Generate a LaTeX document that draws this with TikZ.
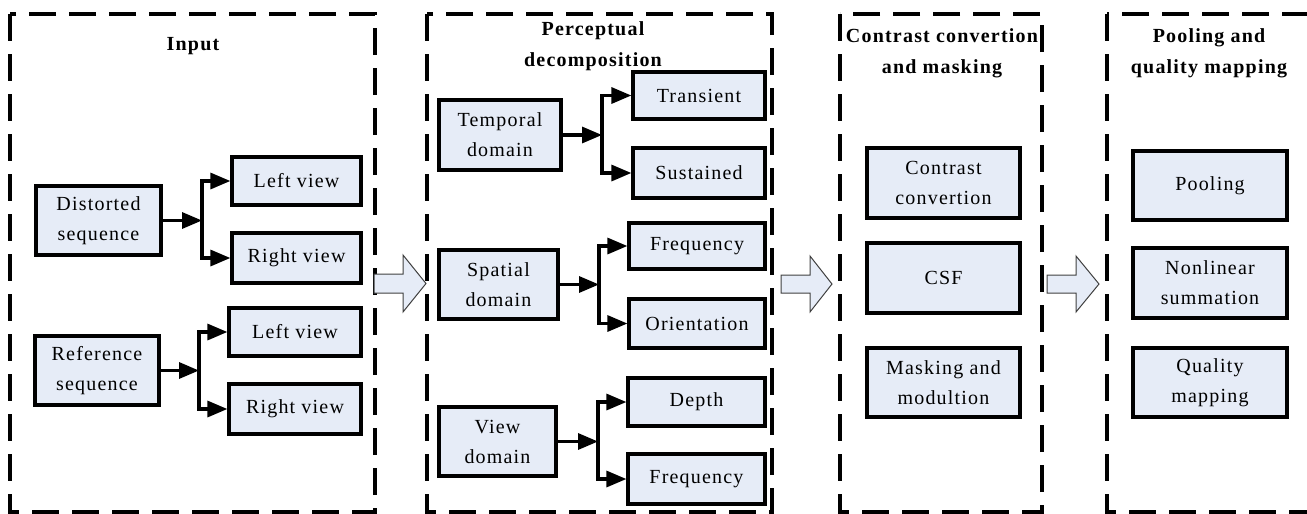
\documentclass[tikz,border=0pt]{standalone}
\usepackage{fontspec}
\setmainfont{Liberation Serif}[LetterSpace=6]
\usetikzlibrary{arrows.meta}
\definecolor{boxfill}{RGB}{230,236,247}
\tikzset{
  frame/.style={draw=black, line width=2.3pt, dash pattern=on 20.25pt off 9.75pt},
  box/.style={draw=black, line width=2.4pt, fill=boxfill, inner sep=0pt, align=center,
    font=\fontsize{15pt}{22.5pt}\selectfont},
  ttl/.style={anchor=north, inner sep=0pt, align=center,
    font=\fontsize{15pt}{23pt}\selectfont\bfseries},
  conn/.style={draw=black, line width=2.4pt, -{Triangle[length=15pt,width=12pt]}},
  hollow/.style={draw=black!75, line width=0.75pt, fill=boxfill},
}
\begin{document}
\begin{tikzpicture}[x=0.75pt, y=-0.75pt]
\useasboundingbox (0,0) rectangle (1307,514);
\clip (0,0) rectangle (1307,514);
% frames
\draw[frame] (10,14) rectangle (375,512);
\draw[frame] (427,14) rectangle (772,512);
\draw[frame] (840,14) rectangle (1042,512);
\draw[frame] (1107,14) rectangle (1330,512);
% titles
\node[ttl] (t1) at (193,37) {Input};
\node[ttl] (t2) at (593,21.5) {Perceptual\\decomposition};
\node[ttl] (t3) at (942,28.5) {Contrast convertion\\and masking};
\node[ttl] (t4) at (1209,28.5) {Pooling and\\quality mapping};
% frame 1
\node[box, minimum width=93.75pt, minimum height=51.75pt] (dist) at (98.5,220.5) {Distorted\\sequence};
\node[box, minimum width=96.75pt, minimum height=36pt] (lv1) at (296.5,181) {Left view};
\node[box, minimum width=96.75pt, minimum height=37.5pt] (rv1) at (296.5,258) {Right view};
\node[box, minimum width=93pt, minimum height=51.75pt] (ref) at (97,370.5) {Reference\\sequence};
\node[box, minimum width=99pt, minimum height=36pt] (lv2) at (295,332) {Left view};
\node[box, minimum width=99pt, minimum height=37.5pt] (rv2) at (295,409) {Right view};
\coordinate (jd) at (202,220.5);
\coordinate (jr) at (199,370.5);
\draw[conn] (dist.east) -- (jd);
\draw[conn] (jd) |- (lv1.west);
\draw[conn] (jd) |- (rv1.west);
\draw[conn] (ref.east) -- (jr);
\draw[conn] (jr) |- (lv2.west);
\draw[conn] (jr) |- (rv2.west);
% frame 2
\node[box, minimum width=91.5pt, minimum height=52.5pt] (temp) at (500,135) {Temporal\\domain};
\node[box, minimum width=99pt, minimum height=35.25pt] (trans) at (699,95.5) {Transient};
\node[box, minimum width=99pt, minimum height=37.5pt] (sust) at (699,173) {Sustained};
\node[box, minimum width=89.25pt, minimum height=51.75pt] (spat) at (498.5,284.5) {Spatial\\domain};
\node[box, minimum width=102pt, minimum height=34.5pt] (freq1) at (697,246) {Frequency};
\node[box, minimum width=102pt, minimum height=36.75pt] (orient) at (697,323.5) {Orientation};
\node[box, minimum width=87.75pt, minimum height=51.75pt] (view) at (497.5,441.5) {View\\domain};
\node[box, minimum width=102.75pt, minimum height=36pt] (depth) at (696.5,402) {Depth};
\node[box, minimum width=102.75pt, minimum height=37.5pt] (freq2) at (696.5,479) {Frequency};
\coordinate (jt) at (602,135);
\coordinate (js) at (599,284.5);
\coordinate (jv) at (598,441.5);
\draw[conn] (temp.east) -- (jt);
\draw[conn] (jt) |- (trans.west);
\draw[conn] (jt) |- (sust.west);
\draw[conn] (spat.east) -- (js);
\draw[conn] (js) |- (freq1.west);
\draw[conn] (js) |- (orient.west);
\draw[conn] (view.east) -- (jv);
\draw[conn] (jv) |- (depth.west);
\draw[conn] (jv) |- (freq2.west);
% frame 3
\node[box, minimum width=114.75pt, minimum height=52.5pt] (cc) at (943.5,183) {Contrast\\convertion};
\node[box, minimum width=114.75pt, minimum height=52.5pt] (csf) at (943.5,278) {CSF};
\node[box, minimum width=114.75pt, minimum height=51.75pt] (mask) at (943.5,382.5) {Masking and\\modultion};
% frame 4
\node[box, minimum width=115.5pt, minimum height=51.75pt] (pool) at (1210,185.5) {Pooling};
\node[box, minimum width=115.5pt, minimum height=52.5pt] (nonlin) at (1210,283) {Nonlinear\\summation};
\node[box, minimum width=115.5pt, minimum height=51.75pt] (qual) at (1210,382.5) {Quality\\mapping};
% hollow arrows between stages
\draw[hollow] (374,274) -- (403,274) -- (403,255) -- (426,283.5) -- (403,312) -- (403,293) -- (374,293) -- cycle;
\draw[hollow] (781,275) -- (810,275) -- (810,256) -- (832,284) -- (810,312) -- (810,293) -- (781,293) -- cycle;
\draw[hollow] (1047,275) -- (1076,275) -- (1076,256) -- (1099,284) -- (1076,312) -- (1076,293) -- (1047,293) -- cycle;
\end{tikzpicture}
\end{document}
